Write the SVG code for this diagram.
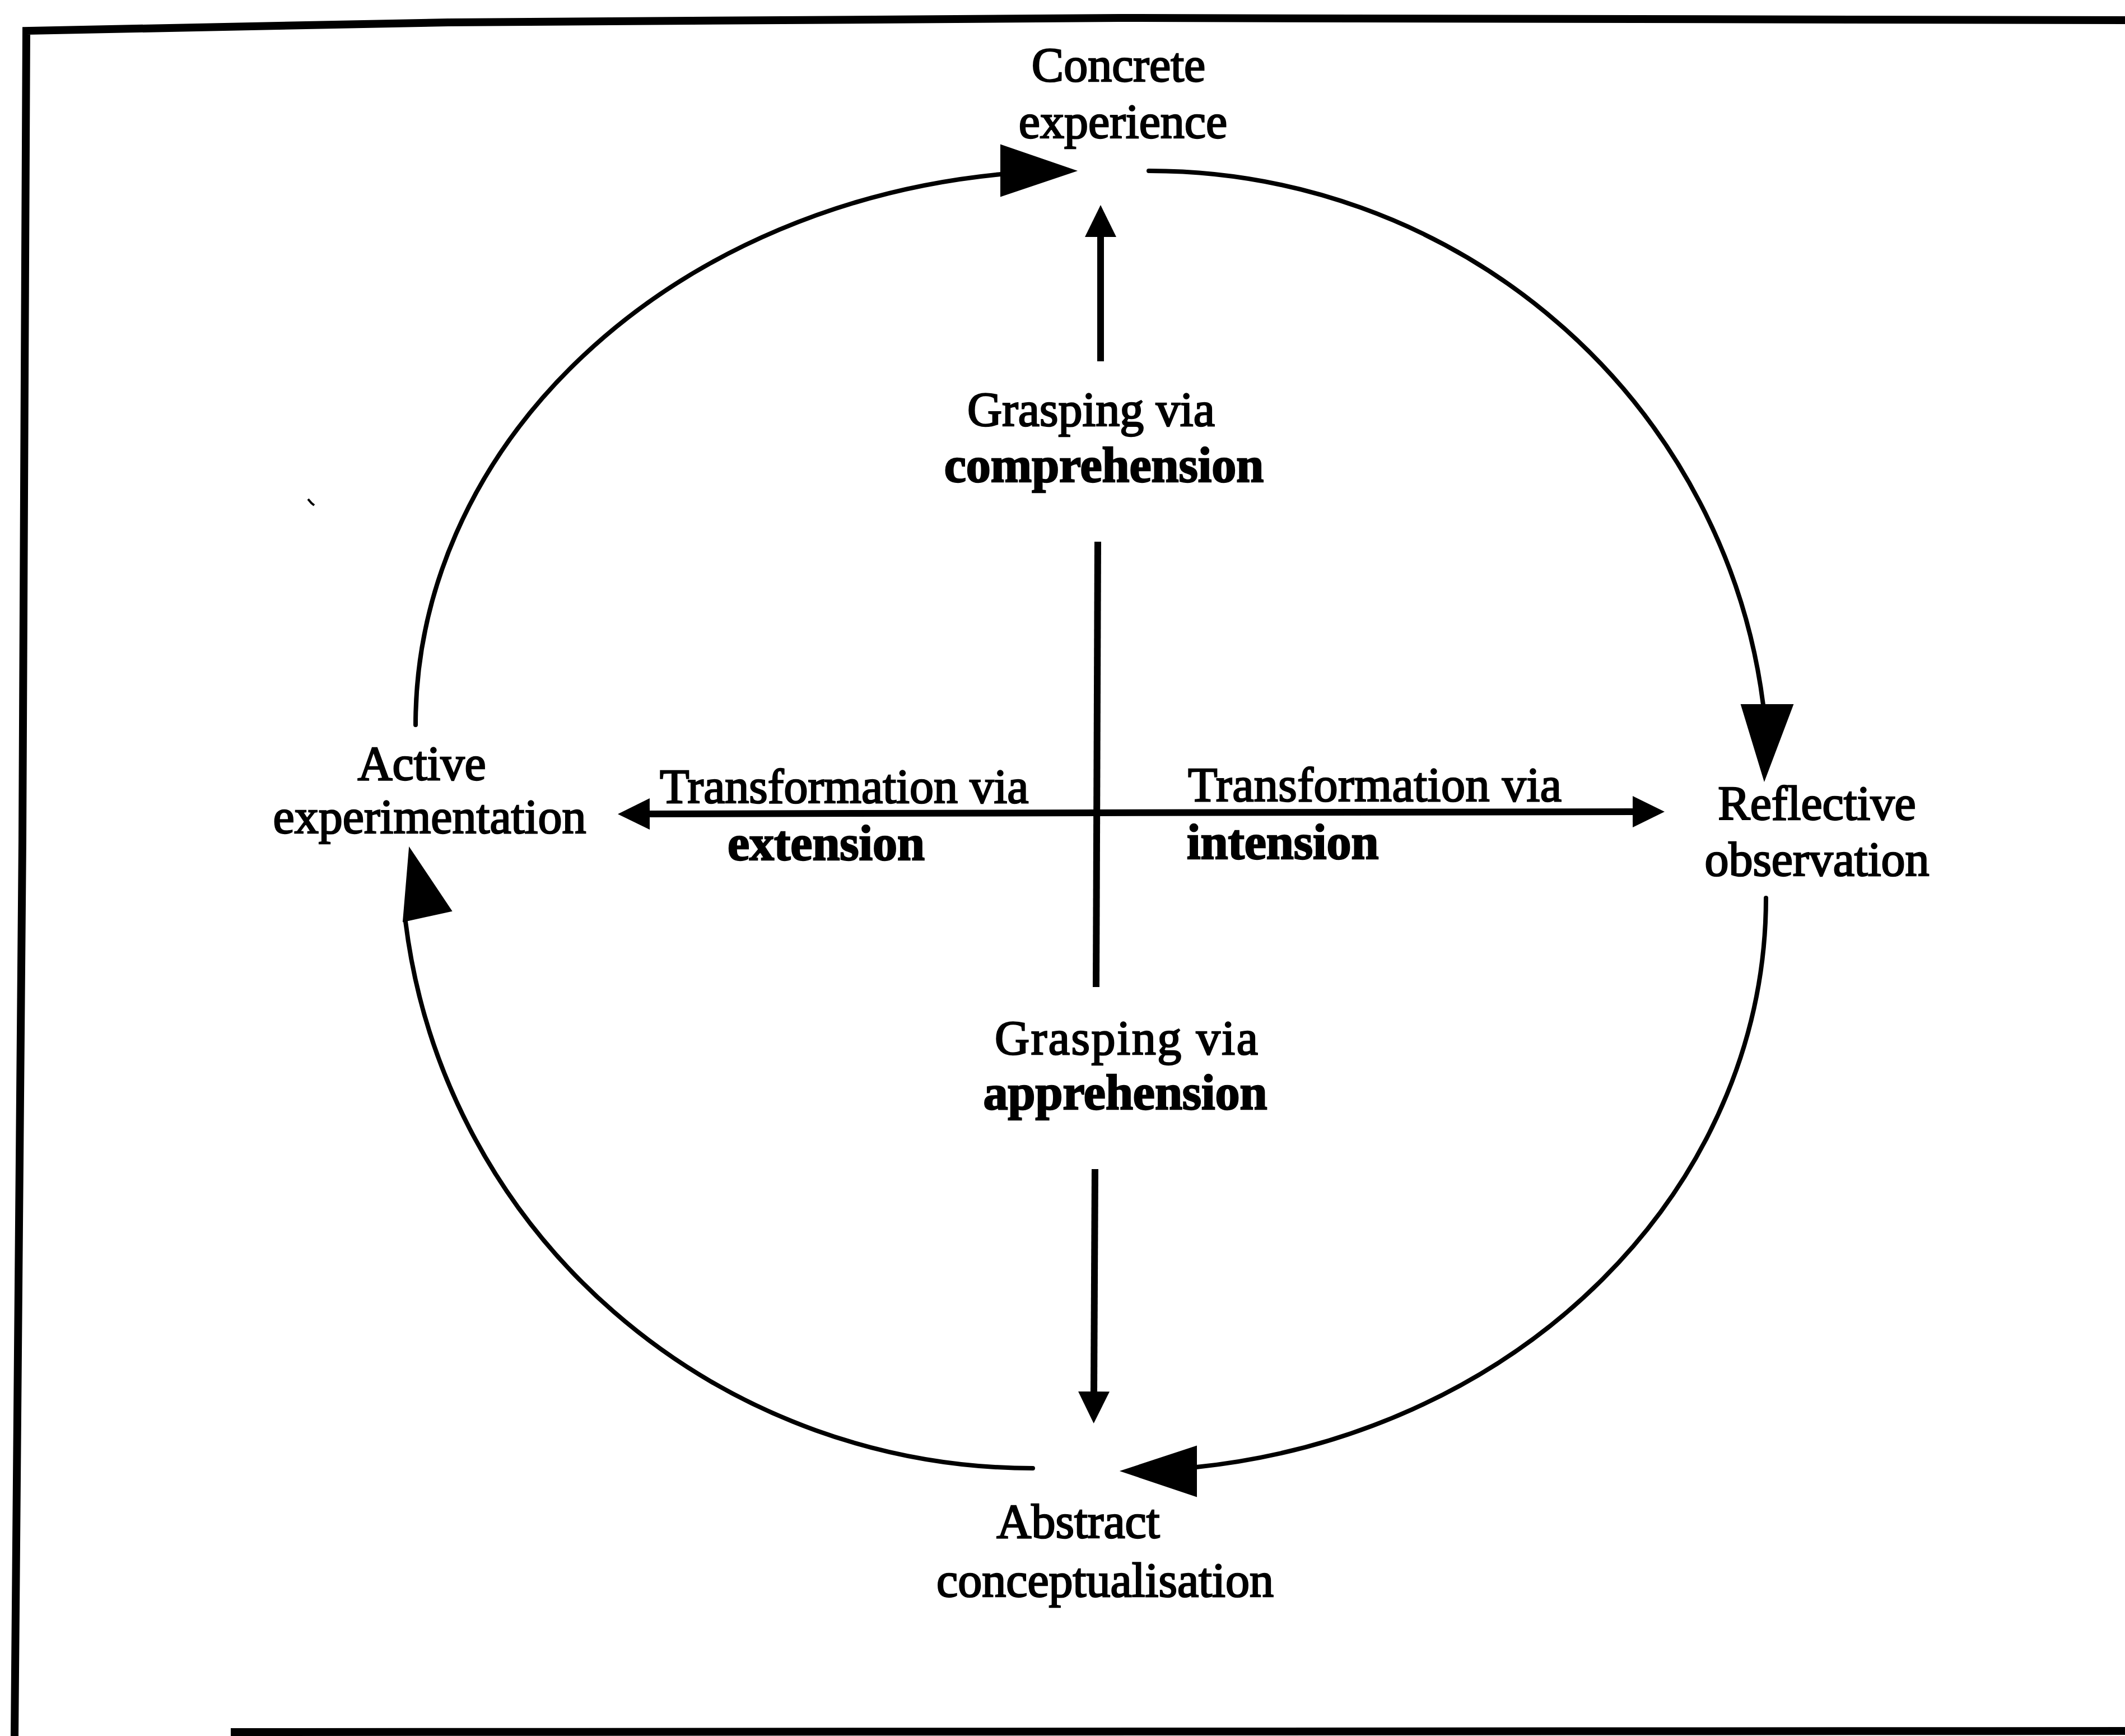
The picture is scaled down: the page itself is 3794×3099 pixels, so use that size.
<svg xmlns="http://www.w3.org/2000/svg" width="3794" height="3099" viewBox="0 0 3794 3099">
<style>
  .bg{fill:#fff}
  .frame{fill:none;stroke:#000;stroke-width:14;stroke-linejoin:miter}
  .arc{fill:none;stroke:#000;stroke-width:8;stroke-linecap:round}
  .axis{fill:none;stroke:#000;stroke-width:12;stroke-linecap:butt}
  .bighead{fill:#000;stroke:#000;stroke-width:2;stroke-linejoin:miter}
  .lbl{font-family:"Liberation Serif","Times New Roman",serif;font-size:86px;fill:#000;stroke:#000;stroke-width:2.5;text-anchor:middle}
  .bold{font-weight:bold;font-size:88px}
  .start{text-anchor:start}
</style>
<defs>
  <marker id="head" markerUnits="userSpaceOnUse" markerWidth="58" markerHeight="58" viewBox="0 -29 58 58" refX="0" refY="0" orient="auto">
    <path d="M0,-28 L57,0 L0,28 Z" fill="#000"/>
  </marker>
</defs>
<rect class="bg" x="0" y="0" width="3794" height="3099"/>

<g id="frame">
  <polyline class="frame" points="26,3099 40,1500 47,55 800,40 2000,32 3794,36"/>
  <line class="frame" x1="412" y1="3092" x2="3794" y2="3090"/>
  <path d="M550,891 L556,898 L561,902" fill="none" stroke="#000" stroke-width="4"/>
</g>

<g id="connectors">
  <path class="arc" d="M742,1294 A1179,989 0 0 1 1787,311"/>
  <polygon class="bighead" points="1787,259 1921,305 1787,350"/>
  <path class="arc" d="M2051,305 A1105,1088 0 0 1 3148,1258"/>
  <polygon class="bighead" points="3109,1258 3201,1258 3150,1393"/>
  <path class="arc" d="M3153,1603 A1151,1023 0 0 1 2136,2619"/>
  <polygon class="bighead" points="2136,2582 2136,2671 2002,2626"/>
  <path class="arc" d="M1844,2621 A1129,1109 0 0 1 724,1645"/>
  <polygon class="bighead" points="731,1514 806,1626 720,1645"/>
  <line class="axis" x1="1965" y1="645" x2="1965" y2="423" marker-end="url(#head)"/>
  <line class="axis" x1="1960" y1="967" x2="1957" y2="1762"/>
  <line class="axis" x1="1955" y1="2087" x2="1953" y2="2484" marker-end="url(#head)"/>
  <line class="axis" x1="1957" y1="1451" x2="1160" y2="1453" marker-end="url(#head)"/>
  <line class="axis" x1="1957" y1="1451" x2="2915" y2="1449" marker-end="url(#head)"/>
</g>

<g id="node-concrete-experience">
  <text class="lbl" x="1997" y="145">Concrete</text>
  <text class="lbl" x="2005" y="246">experience</text>
</g>
<g id="node-reflective-observation">
  <text class="lbl" x="3244" y="1463">Reflective</text>
  <text class="lbl" x="3244" y="1563">observation</text>
</g>
<g id="node-abstract-conceptualisation">
  <text class="lbl" x="1925" y="2745">Abstract</text>
  <text class="lbl" x="1973" y="2850">conceptualisation</text>
</g>
<g id="node-active-experimentation">
  <text class="lbl" x="753" y="1392">Active</text>
  <text class="lbl" x="767" y="1487">experimentation</text>
</g>
<g id="label-comprehension">
  <text class="lbl" x="1948" y="760">Grasping via</text>
  <text class="lbl bold" x="1971" y="860">comprehension</text>
</g>
<g id="label-apprehension">
  <text class="lbl" x="2011" y="1882" textLength="470" lengthAdjust="spacing">Grasping via</text>
  <text class="lbl bold" x="2009" y="1980">apprehension</text>
</g>
<g id="label-extension">
  <text class="lbl start" x="1178" y="1433">Transformation via</text>
  <text class="lbl bold" x="1475" y="1535">extension</text>
</g>
<g id="label-intension">
  <text class="lbl start" x="2121" y="1430" textLength="667" lengthAdjust="spacing">Transformation via</text>
  <text class="lbl bold start" x="2119" y="1533">intension</text>
</g>
</svg>
